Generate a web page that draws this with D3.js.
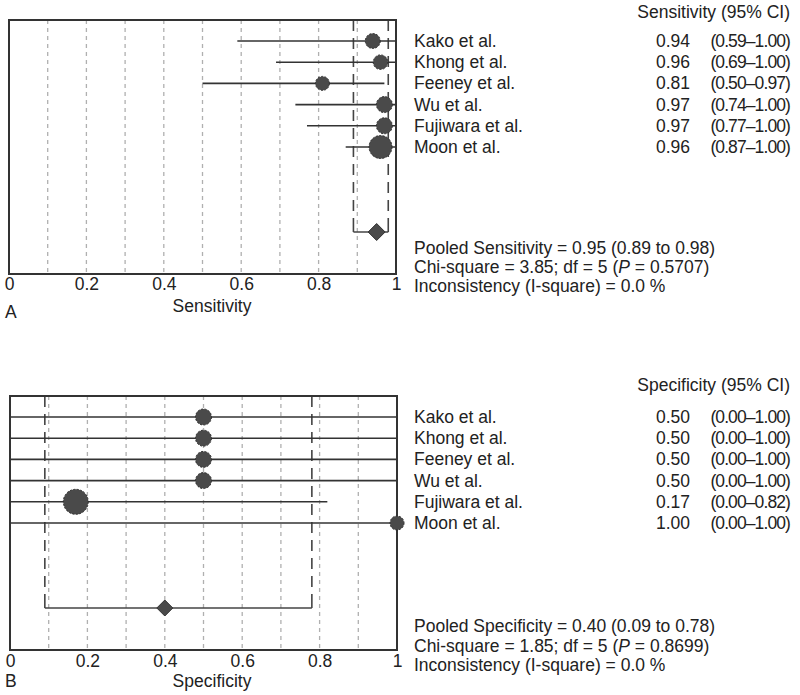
<!DOCTYPE html>
<html><head><meta charset="utf-8">
<script src="https://cdn.jsdelivr.net/npm/d3@7/dist/d3.min.js"></script>
<style>body{margin:0;background:#fff}svg{display:block}text{font-family:"Liberation Sans",Arial,sans-serif;fill:#222}</style>
</head><body><svg id="c" width="800" height="695"></svg>
<script>
const studies = ["Kako et al.", "Khong et al.", "Feeney et al.", "Wu et al.", "Fujiwara et al.", "Moon et al."];
const sensEst = [0.94, 0.96, 0.81, 0.97, 0.97, 0.96];
const sensLo  = [0.59, 0.69, 0.50, 0.74, 0.77, 0.87];
const sensHi  = [1.00, 1.00, 0.97, 1.00, 1.00, 1.00];
const sensWeight = [56, 53, 49, 64, 64, 132];
const sensPooled = [0.95, 0.89, 0.98];
const sensStats = ["Pooled Sensitivity = 0.95 (0.89 to 0.98)", "Chi-square = 3.85; df = 5 (", "P", " = 0.5707)", "Inconsistency (I-square) = 0.0 %"];

const specEst = [0.50, 0.50, 0.50, 0.50, 0.17, 1.00];
const specLo  = [0.00, 0.00, 0.00, 0.00, 0.00, 0.00];
const specHi  = [1.00, 1.00, 1.00, 1.00, 0.82, 1.00];
const specWeight = [64, 64, 64, 64, 156, 49];
const specPooled = [0.40, 0.09, 0.78];
const specStats = ["Pooled Specificity = 0.40 (0.09 to 0.78)", "Chi-square = 1.85; df = 5 (", "P", " = 0.8699)", "Inconsistency (I-square) = 0.0 %"];

const tickVals = [0, 0.2, 0.4, 0.6, 0.8, 1];
const tickLabels = ["0", "0.2", "0.4", "0.6", "0.8", "1"];
const gridVals = [0.1, 0.2, 0.3, 0.4, 0.5, 0.6, 0.7, 0.8, 0.9];

const FS = "17.5px";
const svg = d3.select("#c");
const f2 = d3.format(".2f");

function panel(o) {
  const g = svg.append("g");
  const x = d3.scaleLinear().domain([0, 1]).range([o.x0, o.x1]);
  const y = d3.scalePoint().domain(studies).range([o.r0, o.r1]);
  const r = d3.scaleSqrt().domain([0, d3.max(o.w)]).range([0, o.rmax]);

  g.selectAll(".grid").data(gridVals).join("line")
    .attr("x1", d => x(d)).attr("x2", d => x(d))
    .attr("y1", o.top).attr("y2", o.bottom)
    .attr("stroke", "#b0b0b0").attr("stroke-width", 1.3).attr("stroke-dasharray", "4,4");

  const [pe, pl, ph] = o.pooled;
  [pl, ph].forEach(v => {
    g.append("line").attr("x1", x(v)).attr("x2", x(v)).attr("y1", o.top).attr("y2", o.py - 12)
      .attr("stroke", "#444").attr("stroke-width", 1.6).attr("stroke-dasharray", "11,7");
    g.append("line").attr("x1", x(v)).attr("x2", x(v)).attr("y1", o.py - 12).attr("y2", o.py)
      .attr("stroke", "#444").attr("stroke-width", 1.6);
  });
  g.append("line").attr("x1", x(pl)).attr("x2", x(ph)).attr("y1", o.py).attr("y2", o.py)
    .attr("stroke", "#444").attr("stroke-width", 1.6);

  g.selectAll(".ci").data(studies).join("line")
    .attr("x1", (d, i) => x(o.lo[i])).attr("x2", (d, i) => x(o.hi[i]))
    .attr("y1", d => y(d)).attr("y2", d => y(d))
    .attr("stroke", "#333").attr("stroke-width", 1.6);

  g.append("rect").attr("x", o.x0).attr("y", o.top).attr("width", o.x1 - o.x0).attr("height", o.bottom - o.top)
    .attr("fill", "none").attr("stroke", "#333").attr("stroke-width", 2);

  g.selectAll(".pt").data(studies).join("circle")
    .attr("cx", (d, i) => x(o.est[i])).attr("cy", d => y(d)).attr("r", (d, i) => r(o.w[i]))
    .attr("fill", "#4a4a4a").attr("stroke", "#2e2e2e").attr("stroke-width", 1).attr("stroke-dasharray", "2,1.5");

  const ds = o.dsize;
  g.append("path").attr("d", `M${x(pe)},${o.py - ds}L${x(pe) + ds},${o.py}L${x(pe)},${o.py + ds}L${x(pe) - ds},${o.py}Z`)
    .attr("fill", "#4a4a4a").attr("stroke", "#333").attr("stroke-width", 1);

  const ax = g.append("g").attr("transform", `translate(0,${o.bottom})`)
    .call(d3.axisBottom(x).tickValues(tickVals).tickSize(0).tickPadding(o.pad).tickFormat((d, i) => tickLabels[i]));
  ax.select(".domain").remove();
  ax.selectAll("text").style("font-size", FS).attr("fill", "#222").style("font-family", '"Liberation Sans",Arial,sans-serif');

  g.append("text").attr("x", 212).attr("y", o.xlabY).attr("text-anchor", "middle").style("font-size", FS).text(o.xlab);
  g.append("text").attr("x", 5).attr("y", o.letterY).style("font-size", FS).text(o.letter);

  g.append("text").attr("x", 790).attr("y", o.headY).attr("text-anchor", "end").style("font-size", FS).text(o.header);
  studies.forEach((s, i) => {
    const ty = y(s) + 6;
    g.append("text").attr("x", 414).attr("y", ty).style("font-size", FS).text(s);
    g.append("text").attr("x", 690).attr("y", ty).attr("text-anchor", "end").style("font-size", FS).text(f2(o.est[i]));
    g.append("text").attr("x", 790).attr("y", ty).attr("text-anchor", "end").style("font-size", FS)
      .style("letter-spacing", "-0.9px")
      .text(`(${f2(o.lo[i])}\u2013${f2(o.hi[i])})`);
  });
  const st = o.stats;
  g.append("text").attr("x", 414).attr("y", o.statY[0]).style("font-size", FS).text(st[0]);
  const t2 = g.append("text").attr("x", 414).attr("y", o.statY[1]).style("font-size", FS);
  t2.append("tspan").text(st[1]);
  t2.append("tspan").style("font-style", "italic").text(st[2]);
  t2.append("tspan").text(st[3]);
  g.append("text").attr("x", 414).attr("y", o.statY[2]).style("font-size", FS).text(st[4]);
}

panel({x0: 9, x1: 396, top: 20, bottom: 274, r0: 41, r1: 147, py: 232, pad: 4,
  est: sensEst, lo: sensLo, hi: sensHi, w: sensWeight, rmax: 11.5, pooled: sensPooled, dsize: 8.5,
  xlab: "Sensitivity", xlabY: 312, letter: "A", letterY: 318, header: "Sensitivity (95% CI)", headY: 18,
  stats: sensStats, statY: [254, 273, 292]});

panel({x0: 10, x1: 397, top: 396, bottom: 650, r0: 417, r1: 523, py: 608, pad: 5,
  est: specEst, lo: specLo, hi: specHi, w: specWeight, rmax: 12.5, pooled: specPooled, dsize: 8,
  xlab: "Specificity", xlabY: 687, letter: "B", letterY: 687, header: "Specificity (95% CI)", headY: 391,
  stats: specStats, statY: [632, 652, 671]});
</script></body></html>
